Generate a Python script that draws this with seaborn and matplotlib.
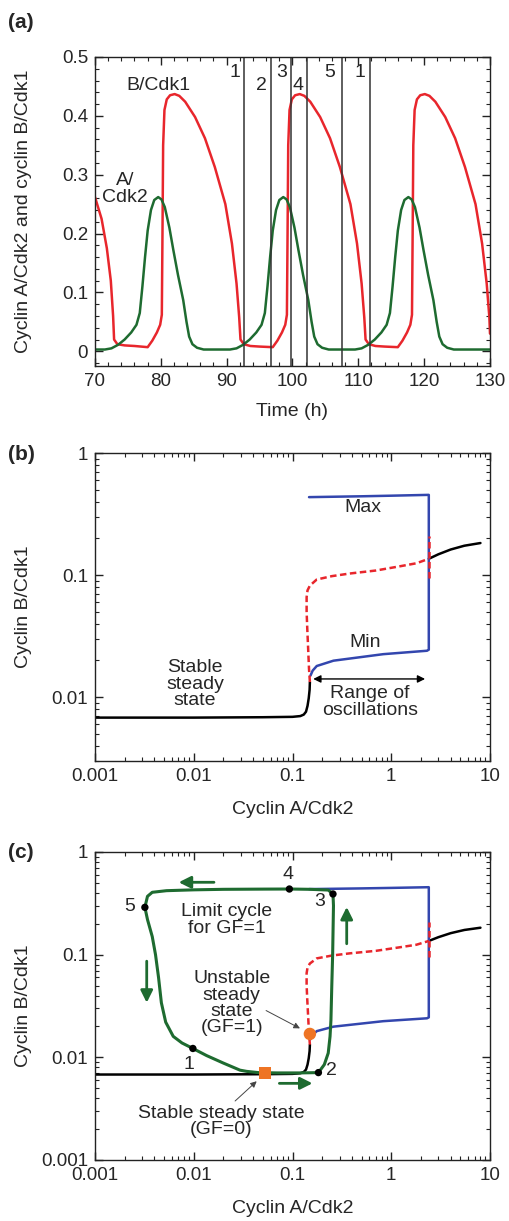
import matplotlib
matplotlib.use("Agg")
import matplotlib.pyplot as plt
import matplotlib.ticker as mticker
import seaborn as sns

# --- Panel (a): time series --------------------------------------------------
t_red = [70.0, 71.0, 71.8, 72.4, 72.75, 72.9, 73.4, 74.5, 76.0, 78.0, 78.7, 79.4, 79.9, 80.15,
         80.25, 80.35, 80.55, 80.9, 81.4, 82.1, 82.8, 83.7, 85.2, 86.7, 88.2, 89.8, 90.8,
         91.5, 91.9, 92.1, 92.6, 93.6, 95.0, 97.0, 97.7, 98.4, 98.9, 99.15, 99.25, 99.35,
         99.55, 99.9, 100.4, 101.1, 101.8, 102.7, 104.2, 105.7, 107.2, 108.8, 109.8, 110.5,
         110.9, 111.1, 111.6, 112.6, 114.0, 116.0, 116.7, 117.4, 117.9, 118.15, 118.25,
         118.35, 118.55, 118.9, 119.4, 120.1, 120.8, 121.7, 123.2, 124.7, 126.2, 127.8,
         128.8, 129.5, 129.9, 130.0]
v_red = [0.262, 0.225, 0.175, 0.12, 0.06, 0.02, 0.012, 0.010, 0.009, 0.007, 0.018, 0.032,
         0.045, 0.062, 0.2, 0.35, 0.41, 0.428, 0.435, 0.437, 0.434, 0.424, 0.398, 0.362,
         0.313, 0.25, 0.183, 0.115, 0.058, 0.02, 0.012, 0.009, 0.008, 0.007, 0.018, 0.032,
         0.045, 0.062, 0.2, 0.35, 0.41, 0.428, 0.435, 0.437, 0.434, 0.424, 0.398, 0.362,
         0.313, 0.25, 0.183, 0.115, 0.058, 0.02, 0.012, 0.009, 0.008, 0.007, 0.018, 0.032,
         0.045, 0.062, 0.2, 0.35, 0.41, 0.428, 0.435, 0.437, 0.434, 0.424, 0.398, 0.362,
         0.313, 0.25, 0.183, 0.115, 0.058, 0.03]

t_green = [70.0, 71.5, 72.5, 73.5, 74.5, 75.5, 76.3, 76.8, 77.2, 77.6, 78.0, 78.5, 79.0, 79.6,
           80.1, 80.6, 81.3, 81.9, 82.6, 83.4, 83.9, 84.3, 84.8, 85.5, 86.5, 90.5, 91.5,
           92.5, 93.5, 94.5, 95.3, 95.8, 96.2, 96.6, 97.0, 97.5, 98.0, 98.6, 99.1, 99.6,
           100.3, 100.9, 101.6, 102.4, 102.9, 103.3, 103.8, 104.5, 105.5, 109.5, 110.5,
           111.5, 112.5, 113.5, 114.3, 114.8, 115.2, 115.6, 116.0, 116.5, 117.0, 117.6,
           118.1, 118.6, 119.3, 119.9, 120.6, 121.4, 121.9, 122.3, 122.8, 123.5, 124.5, 130.0]
v_green = [0.003, 0.003, 0.005, 0.011, 0.02, 0.032, 0.045, 0.065, 0.11, 0.16, 0.205, 0.24,
           0.257, 0.262, 0.258, 0.245, 0.21, 0.172, 0.13, 0.087, 0.05, 0.025, 0.012, 0.006,
           0.003, 0.003, 0.005, 0.011, 0.02, 0.032, 0.045, 0.065, 0.11, 0.16, 0.205, 0.24,
           0.257, 0.262, 0.258, 0.245, 0.21, 0.172, 0.13, 0.087, 0.05, 0.025, 0.012, 0.006,
           0.003, 0.003, 0.005, 0.011, 0.02, 0.032, 0.045, 0.065, 0.11, 0.16, 0.205, 0.24,
           0.257, 0.262, 0.258, 0.245, 0.21, 0.172, 0.13, 0.087, 0.05, 0.025, 0.012, 0.006,
           0.003, 0.003]

phase_lines = [92.6, 96.7, 99.7, 102.2, 107.5, 111.7]
phase_labels = ["1", "2", "3", "4", "5", "1"]
phase_label_t = [91.3, 95.3, 98.4, 100.9, 105.7, 110.3]
phase_label_v = [0.474, 0.452, 0.474, 0.452, 0.474, 0.474]

# --- Panels (b, c): bifurcation diagram --------------------------------------
low_x = [0.001, 0.01, 0.05, 0.1, 0.12, 0.13, 0.137, 0.142, 0.146, 0.149, 0.150]
low_y = [0.0068, 0.0068, 0.00685, 0.0069, 0.0070, 0.0072, 0.0076, 0.0085, 0.0098, 0.0115, 0.0133]

uns_x = [0.150, 0.147, 0.144, 0.141, 0.139, 0.139, 0.142, 0.150, 0.176, 0.25, 0.38, 0.7, 1.22, 1.8, 2.4]
uns_y = [0.0133, 0.017, 0.025, 0.037, 0.05, 0.066, 0.075, 0.082, 0.092, 0.098, 0.103, 0.109, 0.118, 0.125, 0.136]

uns_vx = [2.4, 2.4]
uns_vy = [0.095, 0.21]

high_x = [2.4, 3.0, 4.0, 5.5, 8.0]
high_y = [0.136, 0.148, 0.162, 0.174, 0.183]

osc_x = [0.147, 0.5, 1.0, 2.4, 2.4, 2.3, 0.83, 0.26, 0.176, 0.16, 0.152]
osc_y = [0.435, 0.442, 0.447, 0.454, 0.0245, 0.024, 0.0225, 0.0199, 0.018, 0.0165, 0.015]

# limit cycle for GF=1 (panel c)
cyc_x = [0.183, 0.21, 0.23, 0.24, 0.245, 0.25, 0.255, 0.26, 0.257, 0.23, 0.15, 0.093, 0.05,
         0.02, 0.01, 0.0053, 0.0038, 0.0034, 0.0032, 0.0034, 0.0038, 0.0041, 0.0044, 0.0047,
         0.0052, 0.0062, 0.0076, 0.0098, 0.0135, 0.0199, 0.0294, 0.0343, 0.045, 0.07, 0.12, 0.183]
cyc_y = [0.0071, 0.0085, 0.011, 0.016, 0.023, 0.05, 0.1, 0.3, 0.39, 0.426, 0.433, 0.436, 0.435,
         0.433, 0.428, 0.42, 0.405, 0.37, 0.289, 0.22, 0.15, 0.1, 0.06, 0.034, 0.022, 0.016,
         0.0138, 0.0122, 0.0104, 0.0088, 0.0075, 0.0073, 0.0071, 0.00705, 0.00705, 0.0071]

pts_x = [0.0098, 0.183, 0.257, 0.093, 0.0032]
pts_y = [0.0122, 0.0071, 0.39, 0.436, 0.289]
pts_lab = ["1", "2", "3", "4", "5"]
lab_x = [0.0090, 0.25, 0.187, 0.09, 0.00226]
lab_y = [0.0086, 0.0074, 0.328, 0.60, 0.293]

hopf_x, hopf_y = [0.150], [0.0169]
rest_x, rest_y = [0.0527], [0.0070]

RED = "#e8262c"
GREEN = "#1e6b30"
BLUE = "#3346ae"
ORANGE = "#ee7424"
FS = 14      # labels and annotations
TFS = 13.5   # tick labels

sns.set_style("ticks")
plt.rcParams["font.family"] = ["Liberation Sans", "DejaVu Sans"]
plt.rcParams["axes.linewidth"] = 1.0

fig = plt.figure(figsize=(5.09, 12.21), dpi=100)
W, H = 509, 1221


def box(left, top, right, bottom):
    return [left / W, 1 - bottom / H, (right - left) / W, (bottom - top) / H]


def style_axis(ax):
    ax.tick_params(which="both", direction="in", top=True, right=True,
                   labelsize=TFS, pad=5, color="#222222")
    ax.tick_params(which="major", length=6, width=1.0)
    ax.tick_params(which="minor", length=3, width=0.8)
    for s in ax.spines.values():
        s.set_color("#222222")


def log_axis(ax, ymin):
    ax.set_xscale("log")
    ax.set_yscale("log")
    ax.set_xlim(0.001, 10)
    ax.set_ylim(ymin, 1)
    fmt = mticker.FuncFormatter(lambda v, _: f"{v:g}")
    ax.xaxis.set_major_locator(mticker.LogLocator(base=10, numticks=10))
    ax.yaxis.set_major_locator(mticker.LogLocator(base=10, numticks=10))
    ax.xaxis.set_minor_locator(mticker.LogLocator(base=10, subs=range(2, 10), numticks=20))
    ax.yaxis.set_minor_locator(mticker.LogLocator(base=10, subs=range(2, 10), numticks=20))
    ax.xaxis.set_major_formatter(fmt)
    ax.yaxis.set_major_formatter(fmt)
    ax.xaxis.set_minor_formatter(mticker.NullFormatter())
    ax.yaxis.set_minor_formatter(mticker.NullFormatter())
    style_axis(ax)
    ax.set_xlabel("Cyclin A/Cdk2", fontsize=FS)
    ax.set_ylabel("Cyclin B/Cdk1", fontsize=FS)
    ax.xaxis.set_label_coords(0.5, -0.13)
    ax.yaxis.set_label_coords(-0.16, 0.5)


def bifurcation(ax):
    sns.lineplot(x=low_x, y=low_y, sort=False, estimator=None, ax=ax, color="black", lw=1.8)
    sns.lineplot(x=high_x, y=high_y, sort=False, estimator=None, ax=ax, color="black", lw=1.8)
    sns.lineplot(x=osc_x, y=osc_y, sort=False, estimator=None, ax=ax, color=BLUE, lw=1.8)
    sns.lineplot(x=uns_x, y=uns_y, sort=False, estimator=None, ax=ax, color=RED, lw=1.8,
                 linestyle=(0, (2.6, 1.4)))
    sns.lineplot(x=uns_vx, y=uns_vy, sort=False, estimator=None, ax=ax, color=RED, lw=1.8,
                 linestyle=(0, (2.6, 1.4)))


# ----- (a)
ax_a = fig.add_axes(box(95, 57, 490, 366))
sns.lineplot(x=t_red, y=v_red, sort=False, estimator=None, ax=ax_a, color=RED, lw=1.8)
sns.lineplot(x=t_green, y=v_green, sort=False, estimator=None, ax=ax_a, color=GREEN, lw=1.8)
for t in phase_lines:
    ax_a.axvline(t, color="#333333", lw=1.1)
for t, v, s in zip(phase_label_t, phase_label_v, phase_labels):
    ax_a.text(t, v, s, fontsize=FS, ha="center", va="center")
ax_a.text(79.6, 0.452, "B/Cdk1", fontsize=FS, ha="center", va="center")
ax_a.text(74.6, 0.276, "A/\nCdk2", fontsize=FS, ha="center", va="center", linespacing=0.95)
ax_a.set_xlim(70, 130)
ax_a.set_ylim(-0.025, 0.5)
ax_a.xaxis.set_major_locator(mticker.MultipleLocator(10))
ax_a.xaxis.set_minor_locator(mticker.MultipleLocator(2))
ax_a.yaxis.set_major_locator(mticker.MultipleLocator(0.1))
ax_a.yaxis.set_minor_locator(mticker.MultipleLocator(0.02))
ax_a.yaxis.set_major_formatter(mticker.FuncFormatter(lambda v, _: "0" if abs(v) < 1e-9 else f"{v:.1f}"))
style_axis(ax_a)
ax_a.set_xlabel("Time (h)", fontsize=FS)
ax_a.set_ylabel("Cyclin A/Cdk2 and cyclin B/Cdk1", fontsize=FS)
ax_a.xaxis.set_label_coords(0.5, -0.12)
ax_a.yaxis.set_label_coords(-0.16, 0.5)

# ----- (b)
ax_b = fig.add_axes(box(95, 453, 490, 761))
bifurcation(ax_b)
log_axis(ax_b, 0.003)
ax_b.text(0.52, 0.36, "Max", fontsize=FS, ha="center", va="center")
ax_b.text(0.54, 0.028, "Min", fontsize=FS, ha="center", va="center")
ax_b.text(0.0103, 0.0128, "Stable\nsteady\nstate", fontsize=FS, ha="center", va="center",
          linespacing=0.95)
ax_b.text(0.61, 0.0091, "Range of\noscillations", fontsize=FS, ha="center", va="center",
          linespacing=0.95)
ax_b.annotate("", xy=(0.152, 0.0141), xytext=(2.35, 0.0141),
              arrowprops=dict(arrowstyle="<|-|>", color="black", lw=1.0, mutation_scale=11))

# ----- (c)
ax_c = fig.add_axes(box(95, 852, 490, 1160))
bifurcation(ax_c)
sns.lineplot(x=cyc_x, y=cyc_y, sort=False, estimator=None, ax=ax_c, color=GREEN, lw=2.2)
sns.scatterplot(x=pts_x, y=pts_y, ax=ax_c, color="black", s=28, edgecolor="none", zorder=5)
for x, y, s in zip(lab_x, lab_y, pts_lab):
    ax_c.text(x, y, s, fontsize=FS, ha="center", va="center")
sns.scatterplot(x=hopf_x, y=hopf_y, ax=ax_c, color=ORANGE, s=80, edgecolor="none", zorder=6)
sns.scatterplot(x=rest_x, y=rest_y, ax=ax_c, color=ORANGE, s=80, marker="s",
                edgecolor="none", zorder=6)
green_arrows = [((0.0171, 0.507), (0.0066, 0.507)),
                ((0.00334, 0.092), (0.00334, 0.032)),
                ((0.069, 0.00558), (0.17, 0.00558)),
                ((0.354, 0.12), (0.354, 0.31))]
for (x0, y0), (x1, y1) in green_arrows:
    ax_c.annotate("", xy=(x1, y1), xytext=(x0, y0),
                  arrowprops=dict(arrowstyle="-|>", color=GREEN, lw=2.0, mutation_scale=18))
ax_c.text(0.0216, 0.218, "Limit cycle\nfor GF=1", fontsize=FS, ha="center", va="center",
          linespacing=0.95)
ax_c.text(0.0242, 0.0336, "Unstable\nsteady\nstate\n(GF=1)", fontsize=FS, ha="center",
          va="center", linespacing=0.95)
ax_c.annotate("", xy=(0.126, 0.0186), xytext=(0.051, 0.0294),
              arrowprops=dict(arrowstyle="-|>", color="#444444", lw=0.7, mutation_scale=9))
ax_c.text(0.0188, 0.00236, "Stable steady state\n(GF=0)", fontsize=FS, ha="center",
          va="center", linespacing=0.95)
ax_c.annotate("", xy=(0.0455, 0.0061), xytext=(0.025, 0.0036),
              arrowprops=dict(arrowstyle="-|>", color="#444444", lw=0.7, mutation_scale=9))
log_axis(ax_c, 0.001)

# panel letters
fig.text(8 / W, 1 - 13 / H, "(a)", fontsize=FS + 1, fontweight="bold", ha="left", va="top")
fig.text(8 / W, 1 - 445 / H, "(b)", fontsize=FS + 1, fontweight="bold", ha="left", va="top")
fig.text(8 / W, 1 - 843 / H, "(c)", fontsize=FS + 1, fontweight="bold", ha="left", va="top")

fig.savefig("out.png", dpi=100)
plt.close(fig)
